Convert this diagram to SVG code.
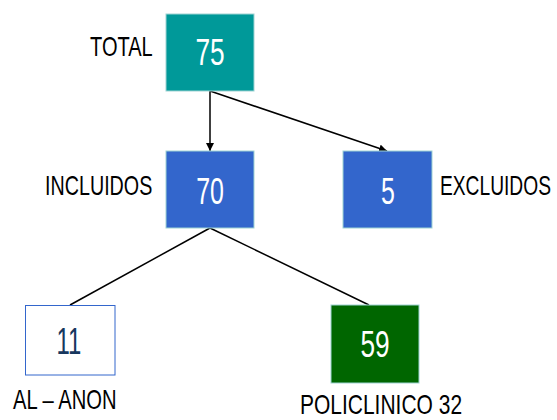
<svg xmlns="http://www.w3.org/2000/svg" width="557" height="420" viewBox="0 0 557 420">
<style>
.lbl{font-family:"Liberation Sans",Arial,sans-serif;font-size:27px;fill:#000}
.num{font-family:"Liberation Sans",Arial,sans-serif;font-size:36px;fill:#fff;text-anchor:middle}
.box{stroke:#9fd3d3;stroke-width:1}
.conn{stroke:#000;stroke-width:1.5;fill:none}
</style>
<defs>
<marker id="ah" viewBox="0 0 10 10" refX="10" refY="5" markerWidth="8" markerHeight="8" markerUnits="userSpaceOnUse" orient="auto">
<path d="M0,0 L10,5 L0,10 z" fill="#000"/>
</marker>
</defs>
<rect width="557" height="420" fill="#fff"/>
<g id="connectors">
<line class="conn" x1="210" y1="91" x2="210" y2="151" marker-end="url(#ah)"/>
<line class="conn" x1="210" y1="91" x2="387" y2="151" marker-end="url(#ah)"/>
<line class="conn" x1="210" y1="228" x2="70" y2="305"/>
<line class="conn" x1="210" y1="228" x2="369" y2="305"/>
</g>
<g id="total">
<rect class="box" x="166" y="14" width="88" height="77" fill="#009999"/>
<text class="num" transform="translate(210,65) scale(0.73,1)" x="0" y="0" textLength="40" lengthAdjust="spacingAndGlyphs">75</text>
<text class="lbl" transform="translate(90,56) scale(0.73,1)" x="0" y="0" textLength="86" lengthAdjust="spacingAndGlyphs">TOTAL</text>
</g>
<g id="incluidos">
<rect class="box" x="166" y="151" width="88" height="77" fill="#3366cc"/>
<text class="num" transform="translate(210,204) scale(0.73,1)" x="0" y="0" textLength="38" lengthAdjust="spacingAndGlyphs">70</text>
<text class="lbl" transform="translate(45,194.5) scale(0.73,1)" x="0" y="0" textLength="147" lengthAdjust="spacingAndGlyphs">INCLUIDOS</text>
</g>
<g id="excluidos">
<rect class="box" x="343" y="151" width="89" height="77" fill="#3366cc"/>
<text class="num" transform="translate(388,204) scale(0.73,1)" x="0" y="0" textLength="19" lengthAdjust="spacingAndGlyphs">5</text>
<text class="lbl" transform="translate(440,195) scale(0.73,1)" x="0" y="0" textLength="152" lengthAdjust="spacingAndGlyphs">EXCLUIDOS</text>
</g>
<g id="alanon">
<rect x="25.5" y="305.5" width="89.5" height="69.5" fill="#fff" stroke="#3366cc" stroke-width="1"/>
<text class="num" transform="translate(69,354) scale(0.73,1)" x="0" y="0" style="fill:#17375e" textLength="34" lengthAdjust="spacingAndGlyphs">11</text>
<text class="lbl" transform="translate(13,409) scale(0.73,1)" x="0" y="0" textLength="142" lengthAdjust="spacingAndGlyphs">AL – ANON</text>
</g>
<g id="policlinico">
<rect class="box" x="331" y="305" width="88" height="78" fill="#006600"/>
<text class="num" transform="translate(375,357) scale(0.73,1)" x="0" y="0" textLength="40" lengthAdjust="spacingAndGlyphs">59</text>
<text class="lbl" transform="translate(300,414) scale(0.73,1)" x="0" y="0" textLength="222" lengthAdjust="spacingAndGlyphs">POLICLINICO 32</text>
</g>
</svg>
